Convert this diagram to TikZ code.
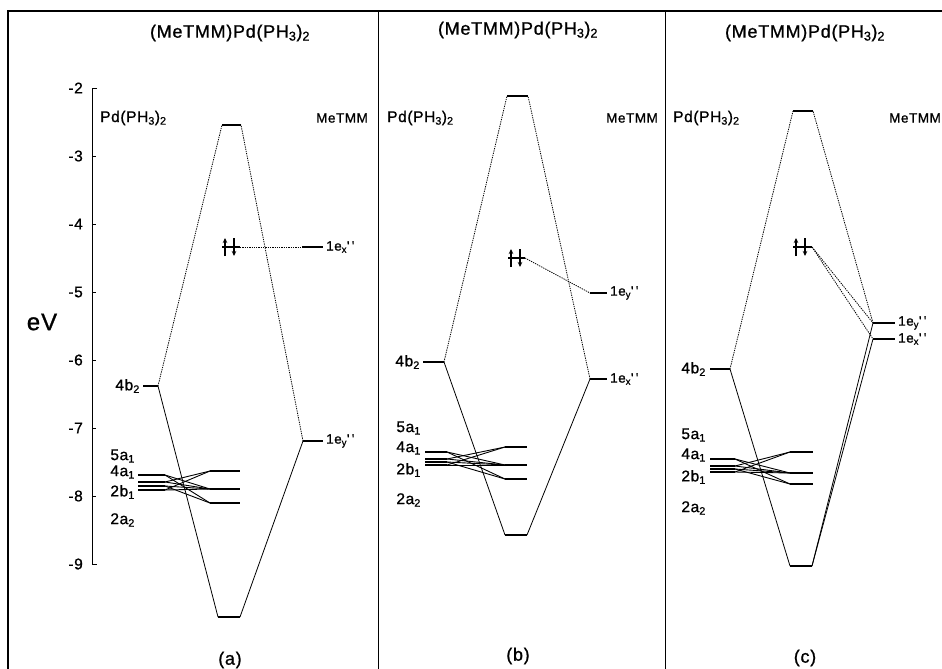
\documentclass[tikz,border=0pt]{standalone}
\usepackage{fontspec}
\setmainfont{Liberation Sans}[LetterSpace=4, FakeBold=1]
\usetikzlibrary{arrows.meta}
\newcommand{\lsub}[1]{\textsubscript{#1}}
\newcommand{\dprime}{\textquotesingle\,\textquotesingle}
\newcommand{\epair}[1]{%
  \draw[spin] ([shift={(3,9)}]#1) -- ++(0,-18);
  \draw[spin] ([shift={(12,-9)}]#1) -- ++(0,18);}

\begin{document}
\begin{tikzpicture}[x=1pt, y=-1pt,
  every node/.style={font=\fontsize{15.5}{17}\selectfont, inner sep=1pt},
  title/.style={font=\fontsize{18}{20}\selectfont},
  frag/.style={anchor=west, font=\fontsize{13.5}{15}\selectfont},
  level/.style={line width=1.8pt},
  tie/.style={line width=0.8pt, dash pattern=on 1.3pt off 1pt},
  corr/.style={line width=0.8pt},
  mix/.style={line width=0.9pt},
  spin/.style={line width=1.1pt, -{Stealth[length=5pt,width=4.5pt]}}]
  \useasboundingbox (0,0) rectangle (942,669);

  % frame
  \draw[line width=1.1pt] (8,669) -- (8,11) -- (942,11);
  \draw[line width=1pt] (378,11) -- (378,669);
  \draw[line width=1pt] (665,11) -- (665,669);

  % energy scale
  \draw[line width=0.8pt] (97,88) -- (92,88) -- (92,564) -- (97,564);
  \foreach \e [count=\i from 0] in {-2,-3,-4,-5,-6,-7,-8,-9} {
    \draw[line width=0.8pt] (92,88+68*\i) -- (96,88+68*\i);
    \node[anchor=east] (tick\i) at (84,88+68*\i) {\e};
  }
  \node[font=\fontsize{24}{26}\selectfont] (ev) at (42,322) {eV};

  % ---------- panel (a)
  \node[title] (a-title) at (230,33) {(MeTMM)Pd(PH\lsub{3})\lsub{2}};
  \node[anchor=west] (a-pd) at (99,118) {Pd(PH\lsub{3})\lsub{2}};
  \node[frag] (a-me) at (315,118) {MeTMM};
  \draw[level] (222,125) coordinate (a-top-l) -- (241,125) coordinate (a-top-r);
  \draw[level] (218,617) coordinate (a-bot-l) -- (240,617) coordinate (a-bot-r);
  \draw[level] (143,386) coordinate (a-4b-l) -- (158,386) coordinate (a-4b-r);
  \draw[level] (303,441) coordinate (a-ey-l) -- (323,441) coordinate (a-ey-r);
  \draw[level] (222,247) coordinate (a-ho-l) -- (240,247) coordinate (a-ho-r);
  \draw[level] (302,247) coordinate (a-ex-l) -- (323,247) coordinate (a-ex-r);
  \draw[tie] (a-4b-r) -- (a-top-l);
  \draw[corr] (a-4b-r) -- (a-bot-l);
  \draw[tie] (a-ey-l) -- (a-top-r);
  \draw[corr] (a-ey-l) -- (a-bot-r);
  \draw[tie] (a-ho-r) -- (a-ex-l);
  \epair{a-ho-l}
  \node[anchor=east] (a-4b) at (141,386) {4b\lsub{2}};
  \node[frag] (a-ey) at (325,441) {1e\lsub{y}\dprime};
  \node[frag] (a-ex) at (325,247) {1e\lsub{x}\dprime};
  \foreach \y [count=\i] in {475,482,486,490}
    \draw[level] (138,\y) -- (165,\y) coordinate (a-L\i);
  \foreach \y [count=\i] in {471,489,503}
    \draw[level] (210,\y) coordinate (a-R\i) -- (240,\y);
  \foreach \l/\r in {1/2,1/3,2/1,2/2,3/2,3/3,4/1,4/2}
    \draw[mix] (a-L\l) -- (a-R\r);
  \node[anchor=east] (a-5a) at (136,456) {5a\lsub{1}};
  \node[anchor=east] (a-4a) at (136,472) {4a\lsub{1}};
  \node[anchor=east] (a-2b) at (136,492) {2b\lsub{1}};
  \node[anchor=east] (a-2a) at (136,520) {2a\lsub{2}};
  \node[title] (a-cap) at (230,660) {(a)};

  % ---------- panel (b)
  \node[title] (b-title) at (518,30) {(MeTMM)Pd(PH\lsub{3})\lsub{2}};
  \node[anchor=west] (b-pd) at (386,118) {Pd(PH\lsub{3})\lsub{2}};
  \node[frag] (b-me) at (605,118) {MeTMM};
  \draw[level] (507,96) coordinate (b-top-l) -- (528,96) coordinate (b-top-r);
  \draw[level] (505,535) coordinate (b-bot-l) -- (527,535) coordinate (b-bot-r);
  \draw[level] (423,362) coordinate (b-4b-l) -- (444,362) coordinate (b-4b-r);
  \draw[level] (590,379) coordinate (b-ex-l) -- (607,379) coordinate (b-ex-r);
  \draw[level] (508,258) coordinate (b-ho-l) -- (525,258) coordinate (b-ho-r);
  \draw[level] (590,293) coordinate (b-ey-l) -- (607,293) coordinate (b-ey-r);
  \draw[tie] (b-4b-r) -- (b-top-l);
  \draw[corr] (b-4b-r) -- (b-bot-l);
  \draw[tie] (b-ex-l) -- (b-top-r);
  \draw[corr] (b-ex-l) -- (b-bot-r);
  \draw[tie] (b-ho-r) -- (b-ey-l);
  \epair{b-ho-l}
  \node[anchor=east] (b-4b) at (421,362) {4b\lsub{2}};
  \node[frag] (b-ex) at (609,379) {1e\lsub{x}\dprime};
  \node[frag] (b-ey) at (609,293) {1e\lsub{y}\dprime};
  \foreach \y [count=\i] in {452,459,462,465}
    \draw[level] (425,\y) -- (447,\y) coordinate (b-L\i);
  \foreach \y [count=\i] in {447,465,479}
    \draw[level] (505,\y) coordinate (b-R\i) -- (527,\y);
  \foreach \l/\r in {1/2,1/3,2/1,2/2,3/2,3/3,4/1,4/2}
    \draw[mix] (b-L\l) -- (b-R\r);
  \node[anchor=east] (b-5a) at (422,428) {5a\lsub{1}};
  \node[anchor=east] (b-4a) at (422,448) {4a\lsub{1}};
  \node[anchor=east] (b-2b) at (422,470) {2b\lsub{1}};
  \node[anchor=east] (b-2a) at (422,500) {2a\lsub{2}};
  \node[title] (b-cap) at (518,656) {(b)};

  % ---------- panel (c)
  \node[title] (c-title) at (805,33) {(MeTMM)Pd(PH\lsub{3})\lsub{2}};
  \node[anchor=west] (c-pd) at (672,118) {Pd(PH\lsub{3})\lsub{2}};
  \node[frag] (c-me) at (888,118) {MeTMM};
  \draw[level] (793,111) coordinate (c-top-l) -- (813,111) coordinate (c-top-r);
  \draw[level] (790,566) coordinate (c-bot-l) -- (812,566) coordinate (c-bot-r);
  \draw[level] (710,369) coordinate (c-4b-l) -- (730,369) coordinate (c-4b-r);
  \draw[level] (873,323) coordinate (c-ey-l) -- (895,323) coordinate (c-ey-r);
  \draw[level] (873,339) coordinate (c-ex-l) -- (895,339) coordinate (c-ex-r);
  \draw[level] (793,247) coordinate (c-ho-l) -- (812,247) coordinate (c-ho-r);
  \draw[tie] (c-4b-r) -- (c-top-l);
  \draw[corr] (c-4b-r) -- (c-bot-l);
  \draw[tie] (c-ey-l) -- (c-top-r);
  \draw[corr] (c-ey-l) -- (c-bot-r);
  \draw[corr] (c-ex-l) -- (c-bot-r);
  \draw[tie] (c-ho-r) -- (c-ey-l);
  \draw[tie] (c-ho-r) -- (c-ex-l);
  \epair{c-ho-l}
  \node[anchor=east] (c-4b) at (707,369) {4b\lsub{2}};
  \node[frag] (c-ey) at (897,323) {1e\lsub{y}\dprime};
  \node[frag] (c-ex) at (897,339) {1e\lsub{x}\dprime};
  \foreach \y [count=\i] in {459,466,469,472}
    \draw[level] (710,\y) -- (735,\y) coordinate (c-L\i);
  \foreach \y [count=\i] in {452,473,484}
    \draw[level] (790,\y) coordinate (c-R\i) -- (813,\y);
  \foreach \l/\r in {1/2,1/3,2/1,2/2,3/2,3/3,4/1,4/2}
    \draw[mix] (c-L\l) -- (c-R\r);
  \node[anchor=east] (c-5a) at (707,435) {5a\lsub{1}};
  \node[anchor=east] (c-4a) at (707,455) {4a\lsub{1}};
  \node[anchor=east] (c-2b) at (707,477) {2b\lsub{1}};
  \node[anchor=east] (c-2a) at (707,508) {2a\lsub{2}};
  \node[title] (c-cap) at (805,658) {(c)};
\end{tikzpicture}
\end{document}
